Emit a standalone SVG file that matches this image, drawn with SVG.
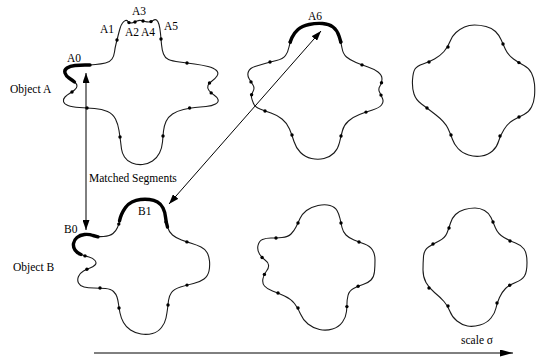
<svg xmlns="http://www.w3.org/2000/svg" width="536" height="360" viewBox="0 0 536 360">
  <style>
    .contour { fill: none; stroke: #1a1a1a; stroke-width: 1.1; stroke-linejoin: round; }
    .seg { fill: none; stroke: #000; stroke-width: 3.4; stroke-linecap: round; stroke-linejoin: round; }
    .dot { fill: #000; }
    .label { font-family: "Liberation Serif", "Times New Roman", serif; font-size: 11.5px; fill: #000; }
    .link { fill: none; stroke: #000; stroke-width: 1; }
  </style>
  <defs>
    <marker id="head" viewBox="0 0 10 7" refX="10" refY="3.5" markerWidth="10" markerHeight="7" markerUnits="userSpaceOnUse" orient="auto-start-reverse">
      <path d="M0,0 L10,3.5 L0,7 Z" fill="#000"/>
    </marker>
    <marker id="bighead" viewBox="0 0 13 7" refX="13" refY="3.5" markerWidth="13" markerHeight="7" markerUnits="userSpaceOnUse" orient="auto">
      <path d="M0,0 L13,3.5 L0,7 Z" fill="#000"/>
    </marker>
  </defs>

  <rect width="536" height="360" fill="#fff"/>

  <!-- Object A, finest scale -->
  <g id="objA1">
    <path class="contour" d="M 85 65 Q 90 65 95.5 64.5 Q 101 64 105.5 63 Q 110 62 112 59 Q 114 56 114.5 52 Q 115 48 116 44 Q 117 40 118 36 Q 119 32 120 28.5 Q 121 25 122.5 23 Q 124 21 125.5 20.5 Q 127 20 128 21.5 Q 129 23 130.5 23 Q 132 23 133.5 22.5 Q 135 22 137 21 Q 139 20 141 20.5 Q 143 21 145 21.5 Q 147 22 149 22 Q 151 22 153 20.5 Q 155 19 156.5 20 Q 158 21 159 24.5 Q 160 28 160.5 33.5 Q 161 39 161.5 44.5 Q 162 50 163.5 54 Q 165 58 168.5 59.5 Q 172 61 179.5 62 Q 187 63 194.5 64 Q 202 65 208 66.5 Q 214 68 216.5 70.5 Q 219 73 217 76 Q 215 79 212 81 Q 209 83 208 85.5 Q 207 88 209 90.5 Q 211 93 214 95 Q 217 97 218 99.5 Q 219 102 215.5 104 Q 212 106 206 106.5 Q 200 107 195 107.5 Q 190 108 183.5 109.5 Q 177 111 172.5 114 Q 168 117 166 121.5 Q 164 126 163.5 131 Q 163 136 162.5 142 Q 162 148 159.5 153 Q 157 158 152.5 161 Q 148 164 142.5 164.5 Q 137 165 132 163 Q 127 161 124.5 157 Q 122 153 121.5 149 Q 121 145 120.5 141 Q 120 137 119 130.5 Q 118 124 115.5 119 Q 113 114 107.5 111.5 Q 102 109 94.5 108.5 Q 87 108 79.5 107.5 Q 72 107 68 105.5 Q 64 104 63.5 101.5 Q 63 99 65 97 Q 67 95 69.5 93.5 Q 72 92 74.5 90 Q 77 88 77 86 Q 77 84 74.5 82 Q 72 80 69 78 Q 66 76 65 73 Q 64 70 67 68 Q 70 66 75 65.5 Q 80 65 85 65 Z"/>
    <path class="seg" d="M 74.5 82 Q 72 80 69 78 Q 66 76 65 73 Q 64 70 67 68 Q 70 66 75 65.5 Q 80 65 85 65 L 90 65"/>
    <g class="dot">
      <circle cx="117" cy="40" r="1.7"/>
      <circle cx="129" cy="22.6" r="1.7"/>
      <circle cx="135" cy="22" r="1.7"/>
      <circle cx="143" cy="21" r="1.7"/>
      <circle cx="151" cy="21.6" r="1.7"/>
      <circle cx="161" cy="39" r="1.7"/>
      <circle cx="187" cy="63" r="1.7"/>
      <circle cx="209.5" cy="83" r="1.7"/>
      <circle cx="211.2" cy="92.9" r="1.7"/>
      <circle cx="189.6" cy="108" r="1.7"/>
      <circle cx="163" cy="136" r="1.7"/>
      <circle cx="120" cy="137" r="1.7"/>
      <circle cx="87" cy="108" r="1.7"/>
      <circle cx="72" cy="92" r="1.7"/>
    </g>
    <text class="label" x="67" y="62">A0</text>
    <text class="label" x="100" y="32.5">A1</text>
    <text class="label" x="125" y="35.5">A2</text>
    <text class="label" x="132" y="15">A3</text>
    <text class="label" x="141" y="35.5">A4</text>
    <text class="label" x="164" y="30">A5</text>
  </g>

  <!-- Object A, middle scale -->
  <g id="objA2">
    <path class="contour" d="M 289 47 Q 290 42 292 37.5 Q 294 33 298 29.5 Q 302 26 309 24.5 Q 316 23 322.5 23.5 Q 329 24 333 27 Q 337 30 339 36 Q 341 42 342 48 Q 343 54 346.5 57 Q 350 60 356 62.5 Q 362 65 368 67 Q 374 69 378 72 Q 382 75 382 79 Q 382 83 380 86 Q 378 89 379.5 92 Q 381 95 382.5 98.5 Q 384 102 381.5 105 Q 379 108 372.5 110 Q 366 112 359.5 114.5 Q 353 117 348.5 121 Q 344 125 342.5 130.5 Q 341 136 339.5 142.5 Q 338 149 334 153 Q 330 157 324 158.5 Q 318 160 311.5 158.5 Q 305 157 300.5 152.5 Q 296 148 294 141.5 Q 292 135 289.5 129 Q 287 123 282 119 Q 277 115 271 113 Q 265 111 260 109 Q 255 107 253.5 103.5 Q 252 100 251.5 97.5 Q 251 95 253 91.5 Q 255 88 253 85 Q 251 82 249 78.5 Q 247 75 248.5 71.5 Q 250 68 255 66.5 Q 260 65 265 63.5 Q 270 62 276.5 60.5 Q 283 59 285.5 55.5 Q 288 52 289 47 Z"/>
    <path class="seg" d="M 290.2 42.1 Q 291 39.8 292 37.5 Q 294 33 298 29.5 Q 302 26 309 24.5 Q 316 23 322.5 23.5 Q 329 24 333 27 Q 337 30 339 36 Q 340 39 340.8 42"/>
    <g class="dot">
      <circle cx="290.2" cy="42.1" r="1.7"/>
      <circle cx="340.8" cy="42" r="1.7"/>
      <circle cx="362" cy="64.9" r="1.7"/>
      <circle cx="381.5" cy="82.8" r="1.7"/>
      <circle cx="381" cy="95.1" r="1.7"/>
      <circle cx="366" cy="112.1" r="1.7"/>
      <circle cx="341" cy="136" r="1.7"/>
      <circle cx="292" cy="135" r="1.7"/>
      <circle cx="265" cy="111" r="1.7"/>
      <circle cx="251.6" cy="94.8" r="1.7"/>
      <circle cx="251" cy="81.9" r="1.7"/>
      <circle cx="270" cy="62" r="1.7"/>
    </g>
    <text class="label" x="308" y="19.5">A6</text>
  </g>

  <!-- Object A, coarsest scale -->
  <g id="objA3">
    <path class="contour" d="M 474.5 25 Q 480 25 486 26.5 Q 492 28 495.5 31.5 Q 499 35 501 39.5 Q 503 44 505.5 49.5 Q 508 55 513.5 59 Q 519 63 524 65.5 Q 529 68 531.5 73 Q 534 78 534.5 84 Q 535 90 534.5 96 Q 534 102 531.5 107 Q 529 112 524 114.5 Q 519 117 513.5 120 Q 508 123 504 129.5 Q 500 136 498.5 141.5 Q 497 147 492.5 151 Q 488 155 481.5 156 Q 475 157 468.5 155 Q 462 153 458 148.5 Q 454 144 452.5 139.5 Q 451 135 448 128.5 Q 445 122 436 115 Q 427 108 421.5 104 Q 416 100 414 94 Q 412 88 412.5 80 Q 413 72 415 69 Q 417 66 423 64 Q 429 62 434.5 59 Q 440 56 444 51.5 Q 448 47 450 41.5 Q 452 36 456 32.5 Q 460 29 464.5 27 Q 469 25 474.5 25 Z"/>
    <g class="dot">
      <circle cx="503" cy="44" r="1.7"/>
      <circle cx="518.9" cy="62.6" r="1.7"/>
      <circle cx="519" cy="117" r="1.7"/>
      <circle cx="500" cy="136" r="1.7"/>
      <circle cx="451" cy="135" r="1.7"/>
      <circle cx="427" cy="108" r="1.7"/>
      <circle cx="429" cy="62" r="1.7"/>
      <circle cx="448" cy="47" r="1.7"/>
    </g>
  </g>

  <!-- Object B, finest scale -->
  <g id="objB1">
    <path class="contour" d="M 103.5 236.5 Q 97 237 93 235.5 Q 89 234 84.5 234.5 Q 80 235 77 237.5 Q 74 240 73.5 243.5 Q 73 247 75 250 Q 77 253 81 254.5 Q 85 256 89 257 Q 93 258 95 260.5 Q 97 263 95 265 Q 93 267 90 268 Q 87 269 83.5 271 Q 80 273 78.5 276.5 Q 77 280 78.5 283 Q 80 286 84 287 Q 88 288 94 288 Q 100 288 105.5 288.5 Q 111 289 113.5 291.5 Q 116 294 117 297 Q 118 300 118.5 304 Q 119 308 120 313 Q 121 318 123.5 322.5 Q 126 327 130.5 330 Q 135 333 141 334 Q 147 335 152.5 333.5 Q 158 332 161.5 327.5 Q 165 323 166 318 Q 167 313 167.5 309 Q 168 305 168.5 300.5 Q 169 296 171.5 292.5 Q 174 289 180.5 287 Q 187 285 193.5 283.5 Q 200 282 204 279 Q 208 276 209 271 Q 210 266 209.5 261 Q 209 256 207 252.5 Q 205 249 201 247 Q 197 245 192 243.5 Q 187 242 181.5 240 Q 176 238 172.5 235 Q 169 232 167.5 227 Q 166 222 165.5 217 Q 165 212 163 208 Q 161 204 157.5 202 Q 154 200 149.5 199.5 Q 145 199 140.5 199.5 Q 136 200 132 202 Q 128 204 125.5 207.5 Q 123 211 121.5 214.5 Q 120 218 119.5 221 Q 119 224 117.5 227.5 Q 116 231 113 233.5 Q 110 236 103.5 236.5 Z"/>
    <path class="seg" d="M 98 236.8 L 93 235.5 Q 89 234 84.5 234.5 Q 80 235 77 237.5 Q 74 240 73.5 243.5 Q 73 247 75 250 Q 77 253 81 254.5"/>
    <path class="seg" d="M 167.5 227 Q 166 222 165.5 217 Q 165 212 163 208 Q 161 204 157.5 202 Q 154 200 149.5 199.5 Q 145 199 140.5 199.5 Q 136 200 132 202 Q 128 204 125.5 207.5 Q 123 211 121.5 214.5 Q 120 218 119.5 221"/>
    <g class="dot">
      <circle cx="85" cy="255.9" r="1.7"/>
      <circle cx="86.9" cy="269.2" r="1.7"/>
      <circle cx="100" cy="288" r="1.7"/>
      <circle cx="119" cy="308" r="1.7"/>
      <circle cx="168" cy="305" r="1.7"/>
      <circle cx="187" cy="285.1" r="1.7"/>
      <circle cx="186.9" cy="241.9" r="1.7"/>
      <circle cx="166" cy="222" r="1.7"/>
      <circle cx="118.8" cy="224.1" r="1.7"/>
    </g>
    <text class="label" x="64" y="233">B0</text>
    <text class="label" x="138" y="215">B1</text>
  </g>

  <!-- Object B, middle scale -->
  <g id="objB2">
    <path class="contour" d="M 318 205.5 Q 325 204 330 205.5 Q 335 207 337 210.5 Q 339 214 340 218.5 Q 341 223 342 227.5 Q 343 232 346 235 Q 349 238 354 240 Q 359 242 364.5 244 Q 370 246 372.5 250 Q 375 254 375 260 Q 375 266 374.5 271.5 Q 374 277 371 280 Q 368 283 363 284.5 Q 358 286 353.5 288.5 Q 349 291 348 295.5 Q 347 300 347 303 Q 347 306 346.5 311.5 Q 346 317 342.5 322 Q 339 327 332.5 329 Q 326 331 319.5 329.5 Q 313 328 308 324 Q 303 320 300.5 314 Q 298 308 294.5 303.5 Q 291 299 284.5 296 Q 278 293 272.5 291 Q 267 289 264.5 286 Q 262 283 263 278.5 Q 264 274 266.5 271 Q 269 268 268.5 265 Q 268 262 265 260 Q 262 258 259.5 254 Q 257 250 258 245.5 Q 259 241 262.5 239.5 Q 266 238 271 238 Q 276 238 282 237.5 Q 288 237 291 234 Q 294 231 296 227 Q 298 223 300 218.5 Q 302 214 306.5 210.5 Q 311 207 318 205.5 Z"/>
    <g class="dot">
      <circle cx="341" cy="223" r="1.7"/>
      <circle cx="359" cy="242" r="1.7"/>
      <circle cx="358.1" cy="286.2" r="1.7"/>
      <circle cx="346.9" cy="306.6" r="1.7"/>
      <circle cx="298" cy="308" r="1.7"/>
      <circle cx="278" cy="293" r="1.7"/>
      <circle cx="264.4" cy="274.4" r="1.7"/>
      <circle cx="262.1" cy="257.5" r="1.7"/>
      <circle cx="276" cy="238" r="1.7"/>
      <circle cx="298" cy="223" r="1.7"/>
    </g>
  </g>

  <!-- Object B, coarsest scale -->
  <g id="objB3">
    <path class="contour" d="M 464.5 209.5 Q 470 208 475 208 Q 480 208 484.5 210.5 Q 489 213 491 217.5 Q 493 222 495.5 228 Q 498 234 504 237.5 Q 510 241 515.5 243 Q 521 245 524 249 Q 527 253 527 262.5 Q 527 272 524.5 276 Q 522 280 515.5 282.5 Q 509 285 505.5 288.5 Q 502 292 499.5 297.5 Q 497 303 496 308 Q 495 313 491 318 Q 487 323 480 325 Q 473 327 467.5 326 Q 462 325 457 321 Q 452 317 450 311.5 Q 448 306 444 301.5 Q 440 297 434.5 292.5 Q 429 288 426 282.5 Q 423 277 423 270 Q 423 263 423.5 256.5 Q 424 250 428.5 247 Q 433 244 439 241 Q 445 238 447 233 Q 449 228 450.5 223 Q 452 218 455.5 214.5 Q 459 211 464.5 209.5 Z"/>
    <g class="dot">
      <circle cx="493" cy="222" r="1.7"/>
      <circle cx="510" cy="241" r="1.7"/>
      <circle cx="509.7" cy="285.2" r="1.7"/>
      <circle cx="497" cy="303" r="1.7"/>
      <circle cx="448" cy="306" r="1.7"/>
      <circle cx="429" cy="288" r="1.7"/>
      <circle cx="433" cy="244" r="1.7"/>
      <circle cx="449" cy="228" r="1.7"/>
    </g>
  </g>

  <!-- row captions -->
  <g id="captions">
    <text class="label" x="10" y="92.5">Object A</text>
    <text class="label" x="13" y="271">Object B</text>
  </g>

  <!-- correspondences between segments, and the scale axis -->
  <g id="connectors">
    <line class="link" x1="86" y1="73" x2="86" y2="230" stroke="#222" marker-start="url(#head)" marker-end="url(#head)"/>
    <line class="link" x1="169" y1="204" x2="321" y2="31" marker-start="url(#head)" marker-end="url(#head)"/>
    <line class="link" x1="94" y1="353" x2="513" y2="353" marker-end="url(#bighead)"/>
  </g>

  <g id="connector-labels">
    <text class="label" x="89" y="182">Matched Segments</text>
    <text class="label" x="461" y="344">scale σ</text>
  </g>
</svg>
